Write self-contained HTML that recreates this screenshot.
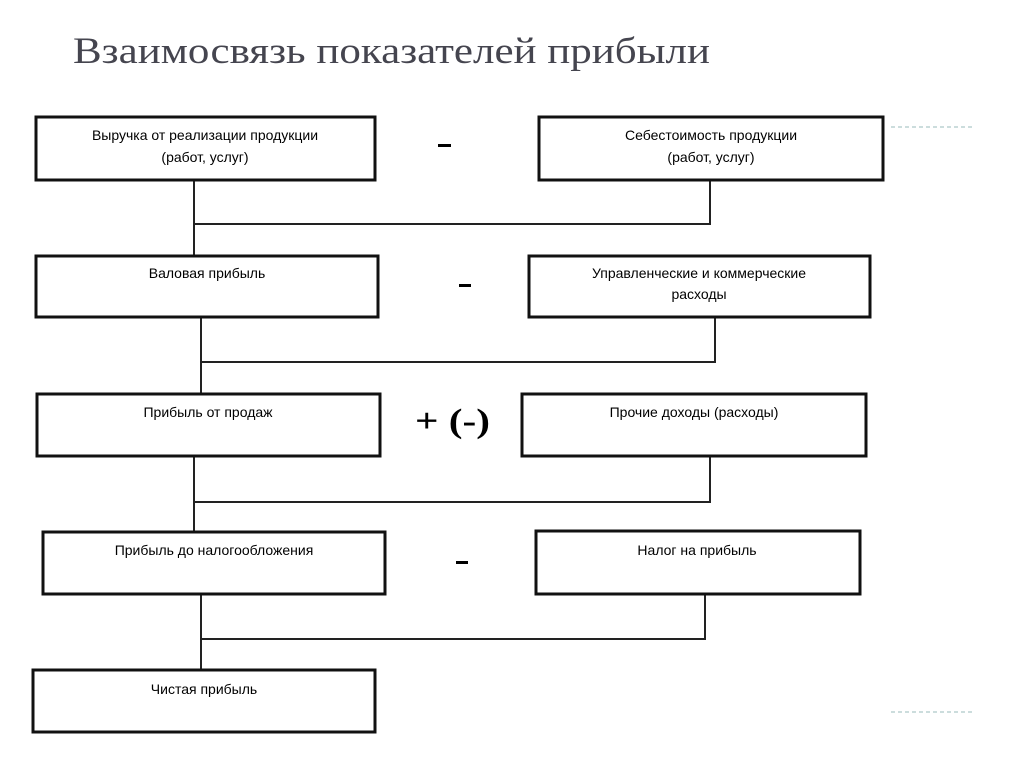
<!DOCTYPE html>
<html><head><meta charset="utf-8"><style>
html,body{margin:0;padding:0;background:#fff;}
svg{display:block}
.t{font-family:"Liberation Sans","Noto Sans CJK SC",sans-serif;font-size:14px;fill:#000;text-anchor:middle}
.h{font-family:"Liberation Serif","DejaVu Serif","Noto Serif CJK SC",serif;font-size:37px;fill:#45454f}
.b{fill:#fff;stroke:#111;stroke-width:3}
.l{stroke:#222;stroke-width:2;fill:none}
.d{stroke:#9bb;stroke-width:1;stroke-dasharray:4 3}
.op{font-family:"Liberation Serif",serif;font-size:34px;font-weight:bold;fill:#000}
</style></head><body>
<svg width="1024" height="767" viewBox="0 0 1024 767">
<text class="h" x="73" y="63" textLength="637" lengthAdjust="spacingAndGlyphs">Взаимосвязь показателей прибыли</text>
<line class="d" x1="891" y1="127" x2="975" y2="127"/>
<line class="d" x1="891" y1="712" x2="975" y2="712"/>
<path class="l" d="M194 180V256M194 224H710V180"/>
<path class="l" d="M201 317V394M201 362H715V317"/>
<path class="l" d="M194 456V532M194 502H710V456"/>
<path class="l" d="M201 594V670M201 639H705V594"/>
<rect class="b" x="36" y="117" width="339" height="63"/>
<rect class="b" x="539" y="117" width="344" height="63"/>
<rect class="b" x="36" y="256" width="342" height="61"/>
<rect class="b" x="529" y="256" width="341" height="61"/>
<rect class="b" x="37" y="394" width="343" height="62"/>
<rect class="b" x="522" y="394" width="344" height="62"/>
<rect class="b" x="43" y="532" width="342" height="62"/>
<rect class="b" x="536" y="531" width="324" height="63"/>
<rect class="b" x="33" y="670" width="342" height="62"/>
<text class="t" x="205" y="140">Выручка от реализации продукции</text>
<text class="t" x="205" y="162">(работ, услуг)</text>
<text class="t" x="711" y="140">Себестоимость продукции</text>
<text class="t" x="711" y="162">(работ, услуг)</text>
<text class="t" x="207" y="278">Валовая прибыль</text>
<text class="t" x="699" y="278">Управленческие и коммерческие</text>
<text class="t" x="699" y="299">расходы</text>
<text class="t" x="208" y="417">Прибыль от продаж</text>
<text class="t" x="694" y="417">Прочие доходы (расходы)</text>
<text class="t" x="214" y="555">Прибыль до налогообложения</text>
<text class="t" x="697" y="555">Налог на прибыль</text>
<text class="t" x="204" y="694">Чистая прибыль</text>
<rect x="438" y="144" width="13" height="3" fill="#000"/>
<rect x="459" y="284" width="12" height="3" fill="#000"/>
<rect x="456" y="561" width="12" height="3" fill="#000"/>
<text class="op" x="415" y="432" textLength="75" lengthAdjust="spacingAndGlyphs">+ (-)</text>
</svg>
</body></html>
